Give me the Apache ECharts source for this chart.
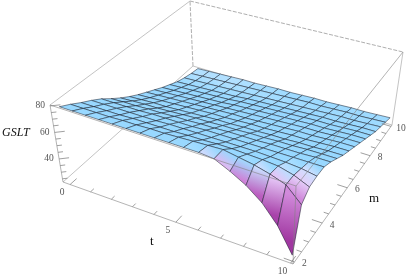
<!DOCTYPE html>
<html><head><meta charset="utf-8">
<style>html,body{margin:0;padding:0;background:#fff}#c{width:407px;height:277px}</style>
<script src="https://cdn.jsdelivr.net/npm/echarts@6/dist/echarts.min.js"></script>
</head><body><div id="c"></div>
<script>
// Data
const tValues=[0,0.625,1.25,1.875,2.5,3.125,3.75,4.375,5,5.625,6.25,6.875,7.5,8.125,8.75,9.375,10];
const mValues=[2,2.5,3,3.5,4,4.5,5,5.5,6,6.5,7,7.5,8,8.5,9,9.5,10];
const gslt=[
[80,80,80,80,80,80,80,80,80,80,80,79,73.5,67,58,45,27],
[76,76,76,76,76.5,76.5,77,77,77.5,78,78.5,79,77,75,72,68,57],
[71.5,71.5,71.5,71.5,72,72,72,72,72.5,72.5,73,73,72.5,72,71,68,63],
[67.5,67.5,67.5,67.5,67.5,67.5,68,68,68,68,68,68,68,67.5,67,66,64],
[63,63,63,63,63.5,63.5,63.5,63.5,64,64,64,64,64,64,64,64,64],
[57.5,58,58,58.5,58.5,59,59,59.5,59.5,60,60,60,60.5,60.5,60.5,61,61],
[52.5,53,53.5,53.5,54,54.5,55,55,55.5,55.5,56,56,56.5,56.5,57,57,57],
[48,48.5,49,49,49.5,50,50.5,51,51,51.5,51.5,52,52,52.5,52.5,53,53],
[44,44.5,45,45.5,46,46.5,47,47,47.5,48,48,48.5,49,49,49.5,50,50],
[40.5,41,41.5,42,42.5,43,43.5,44,44,44.5,45,45.5,46,46,46.5,47,47],
[37,37.5,38,38.5,39,39.5,40,40.5,41,41.5,42,42.5,43,43,43.5,44,44],
[33.5,34,34.5,35,35.5,36,37,37.5,38,38.5,39,39.5,40,40,40.5,41,41],
[30.5,31,31.5,32,32.5,33,34,34.5,35,35.5,36,36.5,37,37,37.5,38,38],
[27.5,28,28.5,29,29.5,30,31,31.5,32,32.5,33,33.5,34,34,34.5,35,35],
[25.5,26,26.5,27,27.5,28,28.5,29,29.5,30,30.5,31,31.5,32,32,32.5,33],
[24,24.5,25,25.5,26,26.5,27,27.5,28,28.5,29,29,29.5,30,30,30.5,31],
[23,23.5,24,24.5,25,25,25.5,26,26,26.5,27,27,27.5,28,28,28.5,29]
];
const tTicks=[0,5,10];
const mTicks=[2,4,6,8,10];
const zTicks=[40,60,80];
const tMinor=[1,2,3,4,6,7,8,9];
const mMinor=[2.5,3,3.5,4.5,5,5.5,6.5,7,7.5,8.5,9,9.5];
const zMinor=[25,30,35,45,50,55,65,70,75];

// View box of the 3D frame
const T0=-0.35,T1=10.1,M0=1.9,M1=10.1,Z0=22.6,Z1=80.7;
const floorQ=[[63,182],[293,264],[392,125],[193,66]];
const ceilQ=[[50,105],[296,186],[403,52],[190,1]];
function homog(q){
  const [x0,y0]=q[0],[x1,y1]=q[1],[x2,y2]=q[2],[x3,y3]=q[3];
  const dx1=x1-x2,dx2=x3-x2,sx=x0-x1+x2-x3,dy1=y1-y2,dy2=y3-y2,sy=y0-y1+y2-y3;
  const den=dx1*dy2-dx2*dy1,g=(sx*dy2-dx2*sy)/den,h=(dx1*sy-sx*dy1)/den;
  const a=x1-x0+g*x1,b=x3-x0+h*x3,d=y1-y0+g*y1,e=y3-y0+h*y3;
  return (u,v)=>{const w=g*u+h*v+1;return [(a*u+b*v+x0)/w,(d*u+e*v+y0)/w];};
}
const hF=homog(floorQ),hC=homog(ceilQ);
function proj(t,m,z){
  const u=(t-T0)/(T1-T0),v=(m-M0)/(M1-M0),f=(z-Z0)/(Z1-Z0);
  const a=hF(u,v),b=hC(u,v);
  return [a[0]+(b[0]-a[0])*f,a[1]+(b[1]-a[1])*f];
}
// Shading derived from the local slope of the surface
const stops=[[-5,[152,216,255]],[-2.5,[168,222,255]],[0,[218,234,255]],[4,[236,216,252]],[12,[222,165,236]],[30,[190,95,195]],[60,[160,55,160]]];
function colourOf(s){
  if(s<=stops[0][0])return stops[0][1];
  for(let k=1;k<stops.length;k++){
    if(s<=stops[k][0]){
      const a=stops[k-1],b=stops[k],f=(s-a[0])/(b[0]-a[0]);
      return a[1].map((c,n)=>Math.round(c+(b[1][n]-c)*f));
    }
  }
  return stops[stops.length-1][1];
}
function nodeColour(i,j){
  const row=gslt[j];
  const gm=j<16?(gslt[j+1][i]-row[i])/0.5:(row[i]-gslt[j-1][i])/0.5;
  const l=Math.max(i-1,0),r=Math.min(i+1,16);
  const gt=-(row[r]-row[l])/((r-l)*0.625);
  return colourOf(gm+0.9*Math.max(gt,0));
}
const rgb=c=>`rgb(${c[0]},${c[1]},${c[2]})`;
const mix=(a,b)=>a.map((v,n)=>Math.round((v+b[n])/2));

const cells=[];
for(let j=15;j>=0;j--)for(let i=0;i<16;i++)cells.push([i,j]);

function renderCell(p,api){
  const i=api.value(0),j=api.value(1);
  const n=[[i,j],[i+1,j],[i+1,j+1],[i,j+1]].map(q=>{
    const c=proj(tValues[q[0]],mValues[q[1]],gslt[q[1]][q[0]]);
    return api.coord(c);
  });
  const a=[(n[0][0]+n[1][0])/2,(n[0][1]+n[1][1])/2],b=[(n[2][0]+n[3][0])/2,(n[2][1]+n[3][1])/2];
  const c0=mix(nodeColour(i,j),nodeColour(i+1,j)),c1=mix(nodeColour(i,j+1),nodeColour(i+1,j+1));
  const fill=new echarts.graphic.LinearGradient(a[0],a[1],b[0],b[1],[{offset:0,color:rgb(c0)},{offset:1,color:rgb(c1)}],true);
  return {type:'polygon',shape:{points:n},style:{fill:fill,stroke:'rgba(20,25,40,0.85)',lineWidth:0.6}};
}
// Frame edges: [t,m,z]->[t,m,z]
const C=(a,b,c)=>[a?T1:T0,b?M1:M0,c?Z1:Z0];
const backEdges=[[C(0,0,1),C(0,1,1)],[C(0,1,1),C(1,1,1)],[C(0,1,0),C(0,1,1)],[C(0,0,0),C(0,1,0)],[C(0,1,0),C(1,1,0)],[C(1,1,0),C(1,1,1)]];
const frontEdges=[[C(0,0,0),C(1,0,0)],[C(1,0,0),C(1,1,0)],[C(0,0,0),C(0,0,1)],[C(0,0,1),C(1,0,1)],[C(1,0,1),C(1,1,1)],[C(1,0,0),C(1,0,1)]];
function renderEdge(list,col){
  return (p,api)=>{
    const e=list[api.value(0)];
    const a=api.coord(proj(...e[0])),b=api.coord(proj(...e[1]));
    const dashed=list===backEdges&&api.value(0)===1||list===backEdges&&api.value(0)===2;
    return {type:'line',shape:{x1:a[0],y1:a[1],x2:b[0],y2:b[1]},style:{stroke:dashed?'#999':col,lineWidth:0.8,lineDash:dashed?[4,1.5]:null}};
  };
}
// Tick marks
const tickSegs=[];
tTicks.forEach(t=>tickSegs.push([[t,M0,Z0],[t,M0+0.35,Z0]]));
tMinor.forEach(t=>tickSegs.push([[t,M0,Z0],[t,M0+0.18,Z0]]));
mTicks.forEach(m=>tickSegs.push([[T1,m,Z0],[T1-0.45,m,Z0]]));
mMinor.forEach(m=>tickSegs.push([[T1,m,Z0],[T1-0.22,m,Z0]]));
zTicks.forEach(z=>tickSegs.push([[T0,M0,z],[T0+0.3,M0+0.2,z]]));
zMinor.forEach(z=>tickSegs.push([[T0,M0,z],[T0+0.15,M0+0.1,z]]));
function renderTick(p,api){
  const e=tickSegs[api.value(0)];
  const a=api.coord(proj(...e[0])),b=api.coord(proj(...e[1]));
  return {type:'line',shape:{x1:a[0],y1:a[1],x2:b[0],y2:b[1]},style:{stroke:'#777',lineWidth:0.7}};
}
// Tick labels and axis titles
const labels=[];
tTicks.forEach(t=>labels.push([String(t),proj(t,M0,Z0),-8,8]));
mTicks.forEach(m=>labels.push([String(m),proj(T1,m,Z0),10,2]));
zTicks.forEach(z=>labels.push([String(z),proj(T0,M0,z),-10,0]));
function renderLabel(p,api){
  const l=labels[api.value(0)];
  const c=api.coord(l[1]);
  return {type:'text',x:c[0]+l[2],y:c[1]+l[3],style:{text:l[0],fill:'#555',font:'9.5px "Liberation Serif"',align:'center',verticalAlign:'middle'}};
}
const chart=echarts.init(document.getElementById('c'),null,{renderer:'canvas'});
const custom=(data,fn,z)=>({type:'custom',coordinateSystem:'cartesian2d',data:data,renderItem:fn,silent:true,clip:false,z:z,animation:false,progressive:0,encode:{x:[],y:[]}});
chart.setOption({
  animation:false,
  backgroundColor:'#fff',
  grid:{left:0,top:0,width:407,height:277},
  xAxis:{type:'value',min:0,max:407,show:false},
  yAxis:{type:'value',min:0,max:277,inverse:true,show:false},
  series:[
    custom(backEdges.map((e,i)=>[i]),renderEdge(backEdges,'#b4b4b4'),1),
    custom(cells,renderCell,2),
    custom(frontEdges.map((e,i)=>[i]),renderEdge(frontEdges,'rgba(130,130,130,0.75)'),3),
    custom(tickSegs.map((e,i)=>[i]),renderTick,4),
    custom(labels.map((e,i)=>[i]),renderLabel,5)
  ],
  graphic:[
    {type:'text',left:2,top:127,style:{text:'GSLT',fill:'#111',font:'italic 12px "Liberation Serif"'}},
    {type:'text',left:150,top:235,style:{text:'t',fill:'#111',font:'13px "Liberation Serif"'}},
    {type:'text',left:369,top:192,style:{text:'m',fill:'#111',font:'13px "Liberation Serif"'}}
  ]
});
</script></body></html>
